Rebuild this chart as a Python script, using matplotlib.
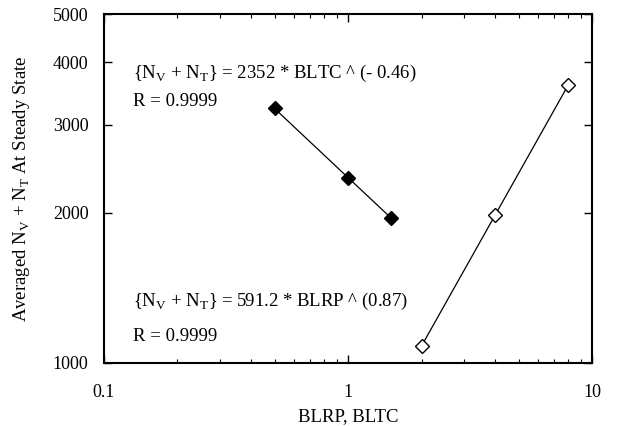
import matplotlib
matplotlib.use("Agg")
import matplotlib.pyplot as plt
from matplotlib.ticker import FixedLocator, FixedFormatter, LogLocator, NullLocator, NullFormatter

plt.rcParams['font.family'] = ['Liberation Serif', 'DejaVu Serif']
plt.rcParams['mathtext.fontset'] = 'custom'
plt.rcParams['mathtext.rm'] = 'Liberation Serif'

# BLTC series (filled) and BLRP series (open)
bltc_x = [0.5, 1.0, 1.5]
bltc_y = [3235, 2352, 1952]
blrp_x = [2.0, 4.0, 8.0]
blrp_y = [1081, 1976, 3612]

y_ticks = [1000, 2000, 3000, 4000, 5000]
x_ticks = [0.1, 1, 10]
x_labels = ['0.1', '1', '10']

FS = 13.5

fig = plt.figure(figsize=(6.22, 4.26), dpi=100)
ax = fig.add_axes([0.167, 0.148, 0.785, 0.819])

ax.plot(bltc_x, bltc_y, color='black', lw=0.9, marker='D', ms=7,
        mfc='black', mec='black')
ax.plot(blrp_x, blrp_y, color='black', lw=0.9, marker='D', ms=7,
        mfc='white', mec='black', mew=1.0)

ax.set_xscale('log')
ax.set_yscale('log')
ax.set_xlim(0.1, 10)
ax.set_ylim(1000, 5000)

ax.xaxis.set_major_locator(FixedLocator(x_ticks))
ax.xaxis.set_major_formatter(FixedFormatter(x_labels))
ax.xaxis.set_minor_locator(LogLocator(base=10, subs=range(2, 10)))
ax.xaxis.set_minor_formatter(NullFormatter())
ax.yaxis.set_major_locator(FixedLocator(y_ticks))
ax.yaxis.set_major_formatter(FixedFormatter([str(v) for v in y_ticks]))
ax.yaxis.set_minor_locator(NullLocator())

ax.tick_params(which='both', direction='in', top=True, right=True,
               labelsize=13)
ax.tick_params(which='major', length=6, width=1)
ax.tick_params(which='minor', length=3, width=0.8)
ax.tick_params(axis='x', pad=15)
ax.tick_params(axis='y', pad=11)
for s in ax.spines.values():
    s.set_linewidth(1.5)

ax.set_xlabel('BLRP, BLTC', fontsize=FS, labelpad=5)
ax.set_ylabel(r'Averaged N$_\mathregular{V}$ + N$_\mathregular{T}$ At Steady State',
              fontsize=FS, labelpad=15)

ax.text(0.059, 0.831, r'{N$_\mathregular{V}$ + N$_\mathregular{T}$} = 2352 * BLTC ^ (- 0.46)',
        transform=ax.transAxes, fontsize=FS, va='center')
ax.text(0.059, 0.748, 'R = 0.9999', transform=ax.transAxes, fontsize=FS, va='center')
ax.text(0.059, 0.175, r'{N$_\mathregular{V}$ + N$_\mathregular{T}$} = 591.2 * BLRP ^ (0.87)',
        transform=ax.transAxes, fontsize=FS, va='center')
ax.text(0.059, 0.075, 'R = 0.9999', transform=ax.transAxes, fontsize=FS, va='center')

fig.savefig('out.png', dpi=100)
